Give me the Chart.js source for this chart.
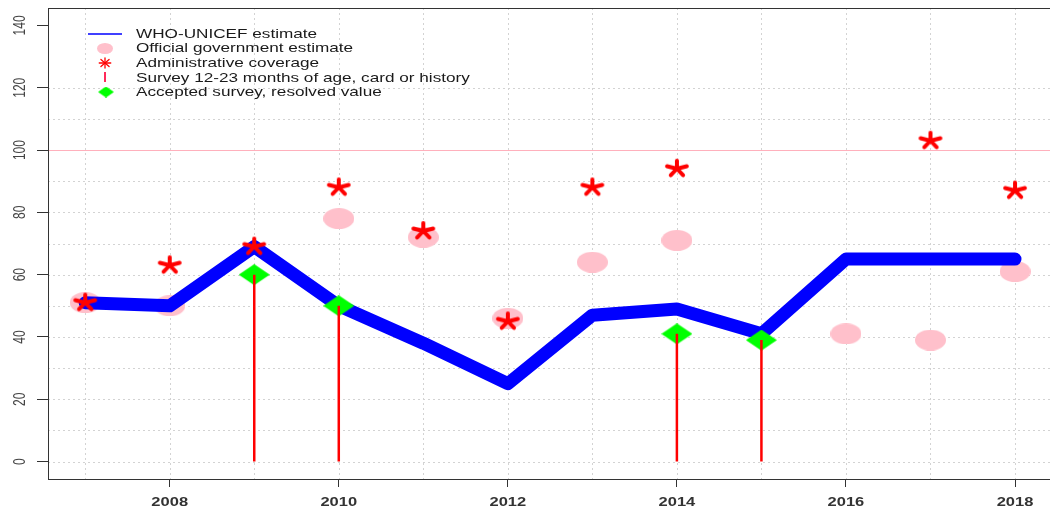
<!DOCTYPE html>
<html>
<head>
<meta charset="utf-8">
<script src="https://cdn.jsdelivr.net/npm/chart.js@4.4.0/dist/chart.umd.min.js"></script>
<style>
  html, body { margin: 0; padding: 0; background: #fff; }
  #wrap { width: 1050px; height: 513px; }
</style>
</head>
<body>
<div id="wrap"><canvas id="chart" width="1050" height="513"></canvas></div>
<script>
// values
const years = [2007, 2008, 2009, 2010, 2011, 2012, 2013, 2014, 2015, 2016, 2017, 2018];
const whoUnicef = [51, 50, 69, 50, 38, 25, 47, 49, 41, 65, 65, 65];
const official = [51, 50, null, 78, 72, 46, 64, 71, null, 41, 39, 61];
const admin = [51, 63, 69, 88, 74, 45, 88, 94, null, null, 103, 87];
const surveyYears = [2009, 2010, 2014, 2015];
const surveyValues = [60, 50, 41, 39];
const resolvedValues = [60, 50, 41, 39];

const xTicks = [2008, 2010, 2012, 2014, 2016, 2018];
const yTicks = [0, 20, 40, 60, 80, 100, 120, 140];
const gridYears = [2007, 2008, 2009, 2010, 2011, 2012, 2013, 2014, 2015, 2016, 2017, 2018];
const gridLevels = [0, 10, 20, 30, 40, 50, 60, 70, 80, 90, 110, 120];
const refLevel = 100;
const legendLabels = [
  'WHO-UNICEF estimate',
  'Official government estimate',
  'Administrative coverage',
  'Survey 12-23 months of age, card or history',
  'Accepted survey, resolved value'
];

const STRETCH = 1.32; // the original is widened, text included
const FONT = '"Liberation Sans", Arial, sans-serif';

function pts(xs, ys) {
  return xs.map((x, i) => ({ x: x, y: ys[i] })).filter(p => p.y !== null);
}

function ellipseImg(w, h, color) {
  const c = document.createElement('canvas');
  c.width = w; c.height = h;
  const g = c.getContext('2d');
  g.fillStyle = color;
  g.beginPath();
  g.ellipse(w / 2, h / 2, w / 2, h / 2, 0, 0, Math.PI * 2);
  g.fill();
  return c;
}

function diamondImg(w, h, color) {
  const c = document.createElement('canvas');
  c.width = w; c.height = h;
  const g = c.getContext('2d');
  g.fillStyle = color;
  g.beginPath();
  g.moveTo(w / 2, 0); g.lineTo(w, h / 2); g.lineTo(w / 2, h); g.lineTo(0, h / 2);
  g.closePath();
  g.fill();
  return c;
}

function starImg(r, lw, sx, arms, color) {
  const hw = Math.ceil(sx * r + lw), hh = Math.ceil(r + lw);
  const c = document.createElement('canvas');
  c.width = hw * 2; c.height = hh * 2;
  const g = c.getContext('2d');
  g.strokeStyle = color;
  g.lineWidth = lw;
  g.lineCap = 'round';
  for (let k = 0; k < arms; k++) {
    const a = -Math.PI / 2 + k * 2 * Math.PI / arms;
    g.beginPath();
    g.moveTo(hw, hh);
    g.lineTo(hw + sx * r * Math.cos(a), hh + r * Math.sin(a));
    g.stroke();
  }
  return c;
}

const pinkDot = ellipseImg(31, 21, '#ffc0cb');
const greenDiamond = diamondImg(31, 21, '#00ff00');
const redStar = starImg(8, 4, 1.3, 5, '#ff0000');

function stretchedText(ctx, text, x, y, align) {
  ctx.save();
  ctx.translate(x, y);
  ctx.scale(STRETCH, 1);
  ctx.textAlign = align;
  ctx.textBaseline = 'middle';
  ctx.fillText(text, 0, 0);
  ctx.restore();
}

const decor = {
  id: 'decor',
  beforeDatasetsDraw(chart) {
    const { ctx, chartArea: a, scales: { x, y } } = chart;
    ctx.save();
    ctx.strokeStyle = '#d3d3d3';
    ctx.lineWidth = 1;
    ctx.setLineDash([2, 3]);
    gridYears.forEach(v => {
      const px = Math.round(x.getPixelForValue(v)) + 0.5;
      ctx.beginPath(); ctx.moveTo(px, a.top); ctx.lineTo(px, a.bottom); ctx.stroke();
    });
    gridLevels.forEach(v => {
      const py = Math.round(y.getPixelForValue(v)) + 0.5;
      ctx.beginPath(); ctx.moveTo(a.left, py); ctx.lineTo(a.right, py); ctx.stroke();
    });
    ctx.setLineDash([]);
    ctx.strokeStyle = '#ffb0bc';
    const ry = Math.round(y.getPixelForValue(refLevel)) + 0.5;
    ctx.beginPath(); ctx.moveTo(a.left, ry); ctx.lineTo(a.right, ry); ctx.stroke();
    ctx.restore();
  },
  afterDraw(chart) {
    const { ctx, chartArea: a, scales: { x, y } } = chart;
    ctx.save();
    // box, right side falls outside the canvas
    ctx.strokeStyle = '#333';
    ctx.lineWidth = 1;
    ctx.strokeRect(Math.round(a.left) + 0.5, Math.round(a.top) + 0.5, a.right - a.left + 4, a.bottom - a.top);

    // axis labels
    ctx.fillStyle = '#333';
    ctx.font = 'bold 12.5px ' + FONT;
    xTicks.forEach(v => stretchedText(ctx, String(v), x.getPixelForValue(v), 503, 'center'));
    ctx.fillStyle = '#444';
    ctx.font = '12px ' + FONT;
    yTicks.forEach(v => {
      ctx.save();
      ctx.translate(21, y.getPixelForValue(v));
      ctx.scale(STRETCH, 1);
      ctx.rotate(-Math.PI / 2);
      ctx.textAlign = 'center';
      ctx.textBaseline = 'middle';
      ctx.fillText(String(v), 0, 0);
      ctx.restore();
    });

    // legend
    const mx = 105, rows = [34, 48.5, 63, 78, 92.5];
    ctx.strokeStyle = '#0000ff';
    ctx.lineWidth = 1.5;
    ctx.beginPath(); ctx.moveTo(88, rows[0]); ctx.lineTo(122, rows[0]); ctx.stroke();
    ctx.drawImage(ellipseImg(16, 11, '#ffc0cb'), mx - 8, rows[1] - 5.5);
    const ls = starImg(5, 1.3, 1.15, 8, '#ff0000');
    ctx.drawImage(ls, mx - ls.width / 2, rows[2] - ls.height / 2);
    ctx.strokeStyle = '#ff2a5a';
    ctx.lineWidth = 2;
    ctx.beginPath(); ctx.moveTo(mx, rows[3] - 6); ctx.lineTo(mx, rows[3] + 4); ctx.stroke();
    ctx.drawImage(diamondImg(16, 11, '#00ff00'), mx - 7, rows[4] - 6);
    ctx.fillStyle = '#1a1a1a';
    ctx.font = '13px ' + FONT;
    legendLabels.forEach((t, i) => stretchedText(ctx, t, 136, rows[i], 'left'));
    ctx.restore();
  }
};

const surveyLines = surveyYears.flatMap((yr, i) => [
  { x: yr, y: 0 }, { x: yr, y: surveyValues[i] }, { x: yr, y: null }
]);

new Chart(document.getElementById('chart'), {
  type: 'line',
  data: {
    datasets: [
      {
        label: 'Survey 12-23 months of age, card or history',
        data: surveyLines,
        borderColor: '#ff0000',
        borderWidth: 2.5,
        pointRadius: 0,
        spanGaps: false
      },
      {
        label: 'Accepted survey, resolved value',
        data: pts(surveyYears, resolvedValues),
        showLine: false,
        pointStyle: greenDiamond,
        pointRadius: 10,
        pointBorderWidth: 0
      },
      {
        label: 'Administrative coverage',
        data: pts(years, admin),
        showLine: false,
        pointStyle: redStar,
        pointRadius: 10,
        pointBorderWidth: 0
      },
      {
        label: 'WHO-UNICEF estimate',
        data: pts(years, whoUnicef),
        borderColor: '#0000ff',
        borderWidth: 13,
        borderJoinStyle: 'round',
        borderCapStyle: 'round',
        tension: 0,
        pointRadius: 0
      },
      {
        label: 'Official government estimate',
        data: pts(years, official),
        showLine: false,
        pointStyle: pinkDot,
        pointRadius: 10,
        pointBorderWidth: 0
      }
    ]
  },
  options: {
    responsive: false,
    animation: false,
    events: [],
    layout: { autoPadding: false, padding: { top: 8, right: 0, left: 0, bottom: 0 } },
    plugins: { legend: { display: false }, tooltip: { enabled: false } },
    scales: {
      x: {
        type: 'linear',
        min: 2006.56,
        max: 2018.414,
        bounds: 'data',
        afterBuildTicks: s => { s.ticks = xTicks.map(v => ({ value: v })); },
        afterFit: s => { s.height = 34; },
        ticks: { display: false },
        grid: { drawOnChartArea: false, drawTicks: true, tickLength: 8, tickColor: '#333' },
        border: { display: false }
      },
      y: {
        type: 'linear',
        min: -5.6,
        max: 145.6,
        bounds: 'data',
        afterBuildTicks: s => { s.ticks = yTicks.map(v => ({ value: v })); },
        afterFit: s => { s.width = 48; },
        ticks: { display: false },
        grid: { drawOnChartArea: false, drawTicks: true, tickLength: 11, tickColor: '#333' },
        border: { display: false }
      }
    }
  },
  plugins: [decor]
});
</script>
</body>
</html>
